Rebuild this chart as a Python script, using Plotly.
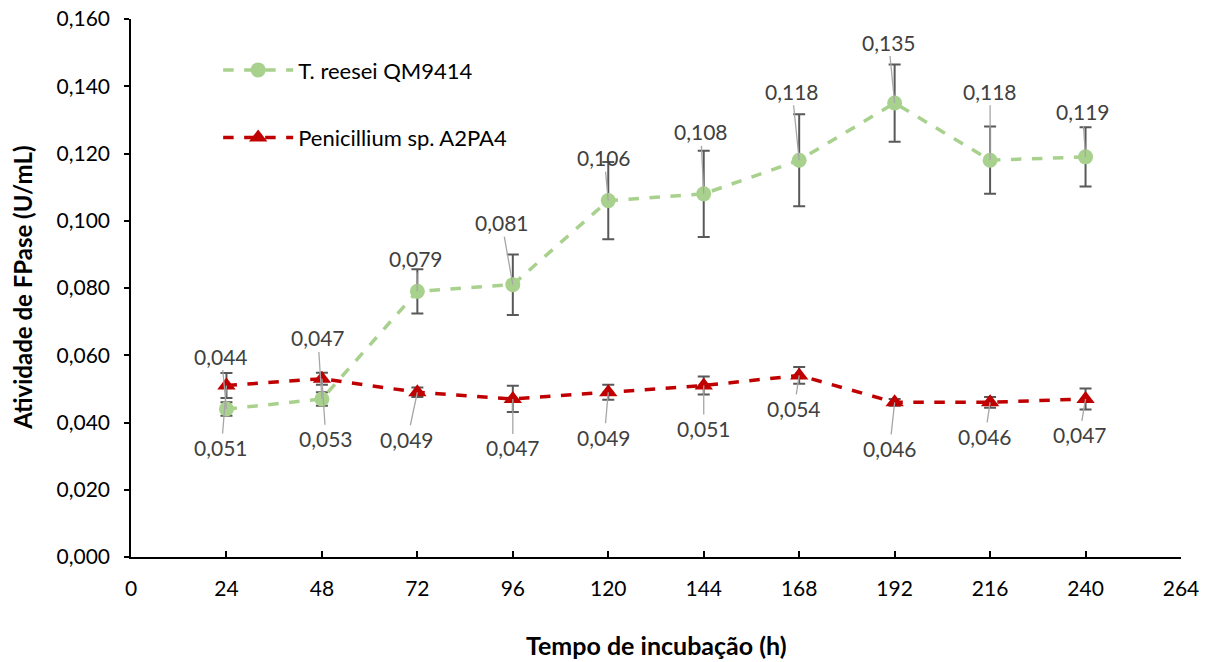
import plotly.graph_objects as go

tempo = [24, 48, 72, 96, 120, 144, 168, 192, 216, 240]
treesei = [0.044, 0.047, 0.079, 0.081, 0.106, 0.108, 0.118, 0.135, 0.118, 0.119]
treesei_err = [0.002, 0.002, 0.0066, 0.009, 0.0115, 0.0128, 0.0137, 0.0115, 0.010, 0.0088]
penicillium = [0.051, 0.053, 0.049, 0.047, 0.049, 0.051, 0.054, 0.046, 0.046, 0.047]
penicillium_err = [0.0037, 0.0018, 0.0014, 0.0039, 0.0022, 0.0027, 0.0025, 0.001, 0.0016, 0.0031]
x_ticks = [0, 24, 48, 72, 96, 120, 144, 168, 192, 216, 240, 264]
y_ticks = [0.0, 0.02, 0.04, 0.06, 0.08, 0.1, 0.12, 0.14, 0.16]

# label offsets (pixels) - styling only
green_off = [(-5, -53), (-4, -61), (-1, -33), (-11, -62), (-4, -43), (-3, -62), (-7, -69), (-6, -61), (0, -69), (-3, -45)]
red_off = [(-5, 62), (4, 60), (-10, 47), (0, 49), (-4, 45), (0, 43), (-5, 33), (-5, 46), (-5, 34), (-6, 36)]

FONT = "Lato"
err_color = "#595959"

fig = go.Figure()
fig.add_trace(go.Scatter(
    x=tempo, y=treesei, name="T. reesei QM9414", mode="lines+markers",
    line=dict(color="#A9D18E", width=3.5, dash="dash"),
    marker=dict(symbol="circle", size=15, color="#A9D18E"),
    error_y=dict(type="data", array=treesei_err, color=err_color, thickness=2, width=6),
    legendgroup="a",
))
fig.add_trace(go.Scatter(
    x=tempo, y=penicillium, name="Penicillium sp. A2PA4", mode="lines+markers",
    line=dict(color="#C00000", width=3.5, dash="dash"),
    marker=dict(symbol="triangle-up", size=16, color="#C00000"),
    error_y=dict(type="data", array=penicillium_err, color=err_color, thickness=2, width=6),
    legendgroup="b",
))

def fmt(v):
    return f"{v:.3f}".replace(".", ",")

annotations = []
for xv, yv, (ox, oy) in zip(tempo, treesei, green_off):
    annotations.append(dict(x=xv, y=yv, text=fmt(yv), ax=ox, ay=oy, showarrow=True,
                            arrowhead=0, arrowwidth=1.3, arrowcolor="#A6A6A6", standoff=0,
                            font=dict(family=FONT, size=21, color="#404040")))
for xv, yv, (ox, oy) in zip(tempo, penicillium, red_off):
    annotations.append(dict(x=xv, y=yv, text=fmt(yv), ax=ox, ay=oy, showarrow=True,
                            arrowhead=0, arrowwidth=1.3, arrowcolor="#A6A6A6", standoff=0,
                            font=dict(family=FONT, size=21, color="#404040")))

annotations.append(dict(xref="paper", yref="paper", x=-0.104, y=0.5, xanchor="center", yanchor="middle",
                        text="<b>Atividade de FPase (U/mL)</b>", textangle=-90, showarrow=False,
                        font=dict(family=FONT, size=24, color="black")))
annotations.append(dict(xref="paper", yref="paper", x=0.5, y=-0.164, xanchor="center", yanchor="middle",
                        text="<b>Tempo de incubação (h)</b>", showarrow=False,
                        font=dict(family=FONT, size=25, color="black")))

fig.update_layout(
    width=1212, height=662,
    margin=dict(l=131, r=31, t=19, b=105, autoexpand=False),
    paper_bgcolor="white", plot_bgcolor="white",
    separators=",.",
    font=dict(family=FONT, size=21, color="black"),
    showlegend=True,
    legend=dict(x=0.083, y=0.944, xanchor="left", yanchor="top", bgcolor="rgba(0,0,0,0)",
                font=dict(family=FONT, size=22, color="black"),
                itemwidth=70, tracegroupgap=36, traceorder="grouped"),
    annotations=annotations,
    xaxis=dict(range=[0, 264], tickmode="array", tickvals=x_ticks, automargin=False,
               showline=True, linecolor="black", linewidth=1.5, mirror=False,
               ticks="inside", ticklen=6, tickcolor="black", tickwidth=1.5,
               showgrid=False, zeroline=False, ticklabelstandoff=12,
               tickfont=dict(family=FONT, size=21, color="black")),
    yaxis=dict(range=[0, 0.16], tickmode="array", tickvals=y_ticks, tickformat=".3f", automargin=False,
               showline=True, linecolor="black", linewidth=1.5,
               ticks="outside", ticklen=5, tickcolor="black", tickwidth=1.5,
               showgrid=False, zeroline=False, ticklabelstandoff=10,
               tickfont=dict(family=FONT, size=21, color="black")),
)

fig.write_html("out.html", config={"displayModeBar": False},
               post_script="document.body.style.margin='0';document.body.style.overflow='hidden';")
